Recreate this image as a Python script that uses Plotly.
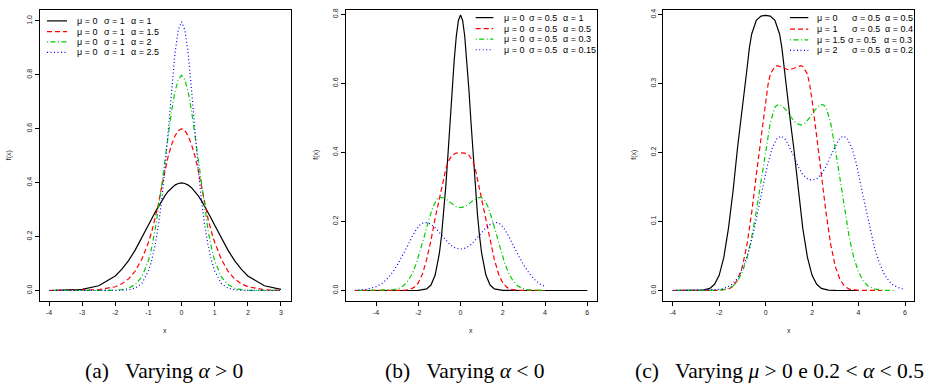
import plotly.graph_objects as go

# ---------------- data ----------------
# Panel (a): mu=0, sigma=1
XA = [-4, -3.5, -3, -2.5, -2, -1.8, -1.6, -1.4, -1.2, -1.0, -0.9, -0.8, -0.7, -0.6, -0.5, -0.4, -0.3, -0.2, -0.1, 0,
      0.1, 0.2, 0.3, 0.4, 0.5, 0.6, 0.7, 0.8, 0.9, 1.0, 1.2, 1.4, 1.6, 1.8, 2, 2.5, 3]
A_ALPHA1 = [0.0001, 0.0009, 0.0044, 0.0175, 0.0540, 0.0790, 0.1109, 0.1497, 0.1942, 0.2420, 0.2661, 0.2897, 0.3123,
            0.3332, 0.3521, 0.3683, 0.3814, 0.3910, 0.3970, 0.3989,
            0.3970, 0.3910, 0.3814, 0.3683, 0.3521, 0.3332, 0.3123, 0.2897, 0.2661, 0.2420, 0.1942, 0.1497, 0.1109,
            0.0790, 0.0540, 0.0175, 0.0044]
A_ALPHA15 = [0, 0.0001, 0.0005, 0.003, 0.014, 0.025, 0.043, 0.072, 0.116, 0.178, 0.218, 0.265, 0.320, 0.385, 0.447,
             0.500, 0.541, 0.573, 0.593, 0.600,
             0.593, 0.573, 0.541, 0.500, 0.447, 0.385, 0.320, 0.265, 0.218, 0.178, 0.116, 0.072, 0.043, 0.025,
             0.014, 0.003, 0.0005]
A_ALPHA2 = [0, 0, 0, 0.0001, 0.0008, 0.003, 0.009, 0.022, 0.050, 0.110, 0.160, 0.223, 0.300, 0.390, 0.485, 0.579,
            0.667, 0.737, 0.782, 0.798,
            0.782, 0.737, 0.667, 0.579, 0.485, 0.390, 0.300, 0.223, 0.160, 0.110, 0.050, 0.022, 0.009, 0.003,
            0.0008, 0.0001, 0]
A_ALPHA25 = [0, 0, 0, 0, 0.0003, 0.001, 0.003, 0.009, 0.026, 0.072, 0.112, 0.168, 0.240, 0.335, 0.455, 0.595,
             0.745, 0.878, 0.966, 0.997,
             0.966, 0.878, 0.745, 0.595, 0.455, 0.335, 0.240, 0.168, 0.112, 0.072, 0.026, 0.009, 0.003, 0.001,
             0.0003, 0, 0]

# Panel (b): mu=0, sigma=0.5
XB_A1 = [-5, -3, -2, -1.6, -1.4, -1.2, -1.0, -0.9, -0.8, -0.7, -0.6, -0.5, -0.4, -0.3, -0.2, -0.1, 0,
         0.1, 0.2, 0.3, 0.4, 0.5, 0.6, 0.7, 0.8, 0.9, 1.0, 1.2, 1.4, 1.6, 2, 3, 6]
B_ALPHA1 = [0, 0, 0.0003, 0.0048, 0.0158, 0.0448, 0.1080, 0.1579, 0.2218, 0.2995, 0.3884, 0.4839, 0.5794, 0.6664,
            0.7365, 0.7821, 0.7979,
            0.7821, 0.7365, 0.6664, 0.5794, 0.4839, 0.3884, 0.2995, 0.2218, 0.1579, 0.1080, 0.0448, 0.0158, 0.0048,
            0.0003, 0, 0]
XB_A05 = [-5, -4, -3, -2.7, -2.4, -2.2, -2.0, -1.8, -1.6, -1.4, -1.2, -1.1, -1.0, -0.9, -0.8, -0.7, -0.6, -0.4, -0.2, 0,
          0.2, 0.4, 0.6, 0.7, 0.8, 0.9, 1.0, 1.1, 1.2, 1.4, 1.6, 1.8, 2.0, 2.2, 2.4, 2.7, 3.0, 4.0]
B_ALPHA05 = [0, 0, 0.0001, 0.0006, 0.003, 0.009, 0.022, 0.048, 0.090, 0.145, 0.210, 0.236, 0.262, 0.290, 0.322,
             0.352, 0.372, 0.392, 0.398, 0.399,
             0.398, 0.392, 0.372, 0.352, 0.322, 0.290, 0.262, 0.236, 0.210, 0.145, 0.090, 0.048, 0.022, 0.009,
             0.003, 0.0006, 0.0001, 0]
XB_A03 = [-5, -4, -3.6, -3.2, -2.9, -2.7, -2.5, -2.3, -2.1, -1.9, -1.7, -1.5, -1.3, -1.1, -0.95, -0.8, -0.6, -0.4, -0.2, 0,
          0.2, 0.4, 0.6, 0.8, 0.95, 1.1, 1.3, 1.5, 1.7, 1.9, 2.1, 2.3, 2.5, 2.7, 2.9, 3.2, 3.6, 4.0]
B_ALPHA03 = [0, 0, 0.0003, 0.002, 0.0065, 0.014, 0.027, 0.047, 0.077, 0.115, 0.160, 0.205, 0.243, 0.266, 0.270,
             0.268, 0.261, 0.251, 0.243, 0.240,
             0.243, 0.251, 0.261, 0.268, 0.270, 0.266, 0.243, 0.205, 0.160, 0.115, 0.077, 0.047, 0.027, 0.014,
             0.0065, 0.002, 0.0003, 0]
XB_A015 = [-5, -4.5, -4, -3.75, -3.5, -3.25, -3, -2.75, -2.5, -2.3, -2.1, -1.9, -1.7, -1.5, -1.25, -1, -0.75, -0.5, -0.25,
           0, 0.25, 0.5, 0.75, 1, 1.25, 1.5, 1.7, 1.9, 2.1, 2.3, 2.5, 2.75, 3, 3.25, 3.5, 3.75, 4]
B_ALPHA015 = [0.0008, 0.003, 0.011, 0.019, 0.032, 0.050, 0.073, 0.100, 0.130, 0.155, 0.176, 0.192, 0.197, 0.195,
              0.185, 0.168, 0.150, 0.133, 0.123, 0.120,
              0.123, 0.133, 0.150, 0.168, 0.185, 0.195, 0.197, 0.192, 0.176, 0.155, 0.130, 0.100, 0.073, 0.050,
              0.032, 0.019, 0.011]

# Panel (c): sigma=0.5
XC_M0 = [-4, -3, -2.7, -2.4, -2.2, -2.0, -1.8, -1.6, -1.4, -1.2, -1.1, -1.0, -0.9, -0.8, -0.7, -0.6, -0.4, -0.2, 0,
         0.2, 0.4, 0.6, 0.7, 0.8, 0.9, 1.0, 1.1, 1.2, 1.4, 1.6, 1.8, 2.0, 2.2, 2.4, 2.7, 3.0, 4.0]
C_MU0 = [0, 0.0001, 0.0006, 0.003, 0.009, 0.022, 0.048, 0.090, 0.145, 0.210, 0.236, 0.262, 0.290, 0.322, 0.352,
         0.372, 0.392, 0.398, 0.399,
         0.398, 0.392, 0.372, 0.352, 0.322, 0.290, 0.262, 0.236, 0.210, 0.145, 0.090, 0.048, 0.022, 0.009, 0.003,
         0.0006, 0.0001, 0]
XC_M1 = [-4, -3, -2, -1.6, -1.4, -1.2, -1.0, -0.8, -0.6, -0.4, -0.2, 0, 0.1, 0.2, 0.4, 0.5, 0.6, 0.8, 1.0,
         1.2, 1.4, 1.5, 1.6, 1.8, 1.9, 2.0, 2.2, 2.4, 2.6, 2.8, 3.0, 3.2, 3.4, 3.6, 4.0, 5.0]
C_MU1 = [0, 0, 0.0003, 0.002, 0.006, 0.016, 0.035, 0.067, 0.113, 0.168, 0.223, 0.276, 0.298, 0.314, 0.325, 0.326,
         0.325, 0.322, 0.320,
         0.322, 0.325, 0.326, 0.325, 0.314, 0.298, 0.276, 0.223, 0.168, 0.113, 0.067, 0.035, 0.016, 0.006, 0.002,
         0.0003, 0]
XC_M15 = [-4, -2.5, -2.1, -1.7, -1.4, -1.2, -1.0, -0.8, -0.6, -0.4, -0.2, 0, 0.2, 0.4, 0.55, 0.7, 0.9, 1.1, 1.3, 1.5,
          1.7, 1.9, 2.1, 2.3, 2.45, 2.6, 2.8, 3.0, 3.2, 3.4, 3.6, 3.8, 4.0, 4.2, 4.4, 4.7, 5.1, 5.5]
C_MU15 = [0, 0, 0.0003, 0.002, 0.0065, 0.014, 0.027, 0.047, 0.077, 0.115, 0.160, 0.205, 0.243, 0.266, 0.270, 0.268,
          0.261, 0.251, 0.243, 0.240,
          0.243, 0.251, 0.261, 0.268, 0.270, 0.266, 0.243, 0.205, 0.160, 0.115, 0.077, 0.047, 0.027, 0.014,
          0.0065, 0.002, 0.0003, 0]
XC_M2 = [-4, -2, -1.8, -1.5, -1.3, -1.1, -0.9, -0.7, -0.5, -0.3, -0.1, 0.1, 0.3, 0.5, 0.67, 0.85, 1.0, 1.2, 1.4, 1.6,
         1.8, 2.0, 2.2, 2.4, 2.6, 2.8, 3.0, 3.15, 3.33, 3.5, 3.7, 3.9, 4.1, 4.3, 4.5, 4.7, 4.9, 5.1, 5.3, 5.5, 5.8, 6.0]
C_MU2 = [0, 0.0015, 0.003, 0.0075, 0.014, 0.024, 0.040, 0.060, 0.088, 0.120, 0.152, 0.185, 0.208, 0.221, 0.224,
         0.219, 0.210, 0.195, 0.180, 0.168, 0.162, 0.160,
         0.162, 0.168, 0.180, 0.195, 0.210, 0.219, 0.224, 0.221, 0.208, 0.185, 0.152, 0.120, 0.088, 0.060, 0.040,
         0.024, 0.014, 0.0075, 0.003, 0.0015]

# Legend labels (mu, sigma, alpha parts)
LEG_A = [("μ = 0", "σ = 1", "α = 1"), ("μ = 0", "σ = 1", "α = 1.5"),
         ("μ = 0", "σ = 1", "α = 2"), ("μ = 0", "σ = 1", "α = 2.5")]
LEG_B = [("μ = 0", "σ = 0.5", "α = 1"), ("μ = 0", "σ = 0.5", "α = 0.5"),
         ("μ = 0", "σ = 0.5", "α = 0.3"), ("μ = 0", "σ = 0.5", "α = 0.15")]
LEG_C = [("μ = 0", "σ = 0.5", "α = 0.5"), ("μ = 1", "σ = 0.5", "α = 0.4"),
         ("μ = 1.5", "σ = 0.5", "α = 0.3"), ("μ = 2", "σ = 0.5", "α = 0.2")]
NB = "\u00a0"
CAPTIONS = ["(a)" + NB * 3 + "Varying <i>α</i>" + NB + "&gt;" + NB + "0",
            "(b)" + NB * 3 + "Varying <i>α</i>" + NB + "&lt;" + NB + "0",
            "(c)" + NB * 3 + "Varying <i>μ</i>" + NB + "&gt;" + NB + "0 e 0.2" + NB + "&lt;" + NB + "<i>α</i>"
            + NB + "&lt;" + NB + "0.5"]

# Tick values / labels
A_XT = [-4, -3, -2, -1, 0, 1, 2, 3]
A_YT = [0, 0.2, 0.4, 0.6, 0.8, 1.0]
B_XT = [-4, -2, 0, 2, 4, 6]
B_YT = [0, 0.2, 0.4, 0.6, 0.8]
C_XT = [-4, -2, 0, 2, 4, 6]
C_YT = [0, 0.1, 0.2, 0.3, 0.4]

# ---------------- styling ----------------
W, H = 937, 388
def px(v): return v / W
def py(v): return 1 - v / H

COLORS = ["#000000", "#FF0000", "#00CD00", "#0000FF"]
DASHES = ["solid", "5px,3px", "1px,2.5px,5px,2.5px", "1px,2.5px"]
LW = 1.2
SANS = "Liberation Sans, Arial, Helvetica, sans-serif"
SERIF = "Liberation Serif, Times New Roman, serif"

fig = go.Figure()

panels = [
    ("x", "y", [(XA, A_ALPHA1), (XA, A_ALPHA15), (XA, A_ALPHA2), (XA, A_ALPHA25)]),
    ("x2", "y2", [(XB_A1, B_ALPHA1), (XB_A05, B_ALPHA05), (XB_A03, B_ALPHA03), (XB_A015, B_ALPHA015)]),
    ("x3", "y3", [(XC_M0, C_MU0), (XC_M1, C_MU1), (XC_M15, C_MU15), (XC_M2, C_MU2)]),
]
for xa, ya, series in panels:
    for i, (xs, ys) in enumerate(series):
        fig.add_trace(go.Scatter(x=xs, y=ys, mode="lines", xaxis=xa, yaxis=ya,
                                 line=dict(color=COLORS[i], width=LW, dash=DASHES[i]),
                                 showlegend=False, hoverinfo="skip"))

ydom = [py(301), py(8)]
def axis(dom, rng, tv, fmt, anchor, is_y=False):
    d = dict(domain=dom, range=rng, tickvals=tv,
             ticktext=[fmt.format(v) for v in tv],
             anchor=anchor, showline=True, mirror=True, linecolor="black", linewidth=1,
             ticks="outside", ticklen=4, tickwidth=1, tickcolor="black",
             showgrid=False, zeroline=False, fixedrange=True,
             tickfont=dict(family=SANS, size=7, color="#222"))
    if is_y:
        d["tickangle"] = -90
    return d

layout = dict(
    width=W, height=H, autosize=False,
    margin=dict(l=0, r=0, t=0, b=0),
    paper_bgcolor="white", plot_bgcolor="white",
    xaxis=axis([px(39.5), px(290.5)], [-4.287, 3.287], A_XT, "{:g}", "y"),
    yaxis=axis(ydom, [-0.0406, 1.0406], A_YT, "{:.1f}", "x", True),
    xaxis2=axis([px(345.7), px(596.7)], [-5.434, 6.445], B_XT, "{:g}", "y2"),
    yaxis2=axis(ydom, [-0.0317, 0.8127], B_YT, "{:.1f}", "x2", True),
    xaxis3=axis([px(663.3), px(914.2)], [-4.405, 6.396], C_XT, "{:g}", "y3"),
    yaxis3=axis(ydom, [-0.0159, 0.4069], C_YT, "{:.1f}", "x3", True),
)
fig.update_layout(**layout)

annotations = []
shapes = []

def ann(x, y, text, size, family=SANS, xanchor="center", angle=0, color="black"):
    annotations.append(dict(x=px(x), y=py(y), xref="paper", yref="paper", text=text,
                            showarrow=False, xanchor=xanchor, yanchor="middle", textangle=angle,
                            font=dict(family=family, size=size, color=color)))

# axis titles
for cx in (165, 471.2, 788.8):
    ann(cx, 330, "x", 7, color="#222")
for fx in (9, 316.5, 634.6):
    ann(fx, 154, "f(x)", 7, angle=-90, color="#222")

# legends
legends = [
    (LEG_A, [19, 29.7, 40, 50.7], (47, 67), [(75, 101.7, 129.3)] * 4),
    (LEG_B, [15.7, 26.7, 37.3, 48], (475.7, 493.3), [(501.7, 526.7, 560.7)] * 4),
    (LEG_C, [15.7, 27.3, 38, 48.7], (790, 808.3),
     [(815, 850, 883.3), (815, 850, 883.3), (815, 845.7, 881.7), (815, 850, 883.3)]),
]
for labels, rows, (l0, l1), cols in legends:
    for i, (lab, ry, cpos) in enumerate(zip(labels, rows, cols)):
        shapes.append(dict(type="line", xref="paper", yref="paper", x0=px(l0), x1=px(l1),
                           y0=py(ry), y1=py(ry),
                           line=dict(color=COLORS[i], width=LW, dash=DASHES[i])))
        for part, cx in zip(lab, cpos):
            ann(cx, ry, part, 9, xanchor="left")

# captions
for cx, txt in zip((164, 465, 779), CAPTIONS):
    ann(cx, 371, txt, 21.5, family=SERIF)

fig.update_layout(annotations=annotations, shapes=shapes)
fig.write_html("out.html", config={"displayModeBar": False},
               post_script="document.body.style.margin='0px';")
